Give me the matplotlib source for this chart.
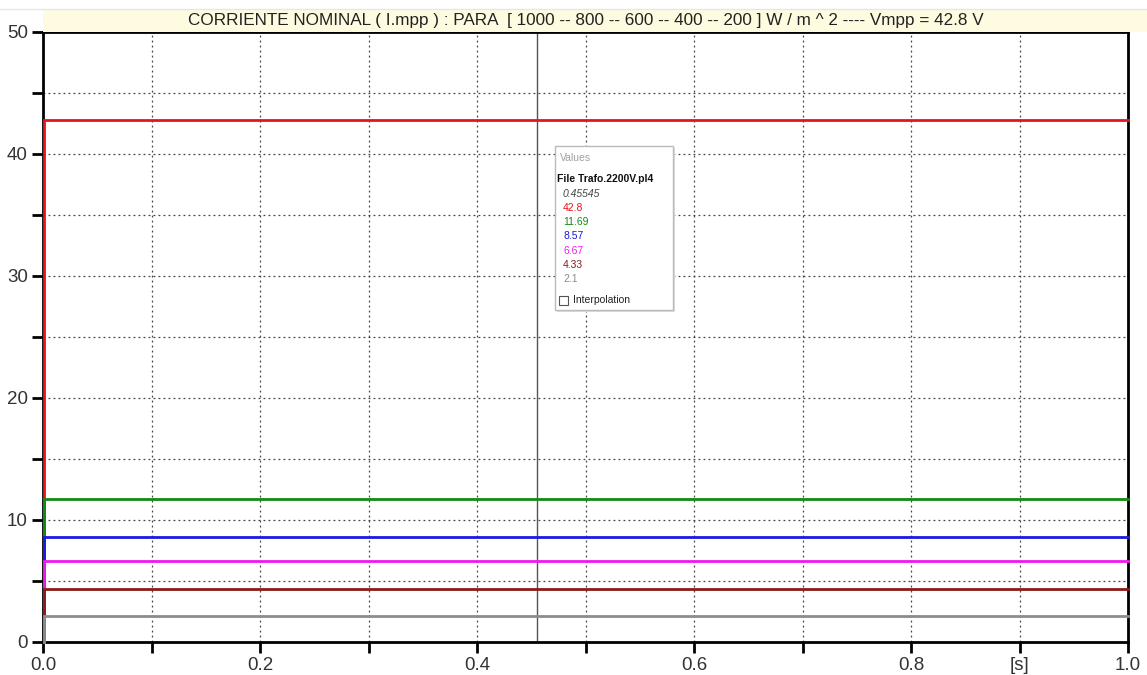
import matplotlib.pyplot as plt
from matplotlib.patches import Rectangle

plt.rcParams['font.family'] = ['Liberation Sans', 'DejaVu Sans']

# data
t_series = [0.001, 0.001, 1.0]
valores = [42.8, 11.69, 8.57, 6.67, 4.33, 2.1]
colores = ['#e8141c', '#138a13', '#1a1ae0', '#ee1aee', '#8b1a1a', '#8c8c8c']
cursor_t = 0.45545
x_ticks = [0.0, 0.1, 0.2, 0.3, 0.4, 0.5, 0.6, 0.7, 0.8, 0.9, 1.0]
x_labels = ['0.0', '', '0.2', '', '0.4', '', '0.6', '', '0.8', '[s]', '1.0']
y_ticks = [0, 5, 10, 15, 20, 25, 30, 35, 40, 45, 50]
y_labels = ['0', '', '10', '', '20', '', '30', '', '40', '', '50']
titulo = 'CORRIENTE NOMINAL ( I.mpp ) : PARA  [ 1000 -- 800 -- 600 -- 400 -- 200 ] W / m ^ 2 ---- Vmpp = 42.8 V'

W, H = 1147, 675
fig = plt.figure(figsize=(W / 100, H / 100), dpi=100)
ax = fig.add_axes([43 / W, 1 - 642 / H, (1128 - 43) / W, (642 - 32) / H])

# banda del titulo
fig.patches.append(Rectangle((43 / W, 1 - 32 / H), 1 - 43 / W, 22 / H,
                             transform=fig.transFigure, facecolor='#fffbe0',
                             edgecolor='none', zorder=0))
fig.add_artist(plt.Line2D([0, 1], [1 - 9 / H, 1 - 9 / H], color='#e6e6e6', lw=1))
fig.text((43 + 1128) / 2 / W, 1 - 21 / H, titulo, ha='center', va='center',
         fontsize=12.3, color='#222222')

for v, c in zip(valores, colores):
    ax.plot(t_series, [0, v, v], color=c, lw=2, solid_joinstyle='miter',
            zorder=3, clip_on=False)

ax.axvline(cursor_t, color='#555555', lw=1)

ax.set_xlim(0, 1)
ax.set_ylim(0, 50)
ax.set_xticks(x_ticks)
ax.set_xticklabels(x_labels)
ax.set_yticks(y_ticks)
ax.set_yticklabels(y_labels)
ax.grid(True, linestyle=(0, (1.5, 2.5)), color='#444444', lw=0.9)
ax.tick_params(direction='out', length=8, width=2, labelsize=13.5,
               colors='black', labelcolor='#333333', pad=3)
for s in ax.spines.values():
    s.set_linewidth(2)

# caja de valores
bx, by, bw, bh = 555, 146, 118, 164
fig.patches.append(Rectangle(((bx + 2) / W, 1 - (by + bh + 2) / H), bw / W, bh / H,
                             transform=fig.transFigure, facecolor='#dddddd',
                             edgecolor='none', zorder=5))
fig.patches.append(Rectangle((bx / W, 1 - (by + bh) / H), bw / W, bh / H,
                             transform=fig.transFigure, facecolor='white',
                             edgecolor='#bbbbbb', lw=1, zorder=6))
fig.text((bx + 5) / W, 1 - 158 / H, 'Values', fontsize=7.5, color='#a0a0a0',
         va='center', zorder=7)
fig.text((bx + 2) / W, 1 - 179 / H, 'File Trafo.2200V.pl4', fontsize=7.5,
         fontweight='bold', color='#111111', va='center', zorder=7)
fig.text((bx + 8) / W, 1 - 194 / H, str(cursor_t), fontsize=7.5, style='italic',
         color='#444444', va='center', zorder=7)
for i, (v, c) in enumerate(zip(valores, colores)):
    fig.text((bx + 8) / W, 1 - (208 + i * 14.2) / H, '%g' % v, fontsize=7.5,
             color=c, va='center', zorder=7)
fig.patches.append(Rectangle(((bx + 4) / W, 1 - 305 / H), 9 / W, 9 / H,
                             transform=fig.transFigure, facecolor='white',
                             edgecolor='#555555', lw=0.8, zorder=7))
fig.text((bx + 18) / W, 1 - 300 / H, 'Interpolation', fontsize=7.5,
         color='#222222', va='center', zorder=7)

fig.savefig('out.png', dpi=100)
